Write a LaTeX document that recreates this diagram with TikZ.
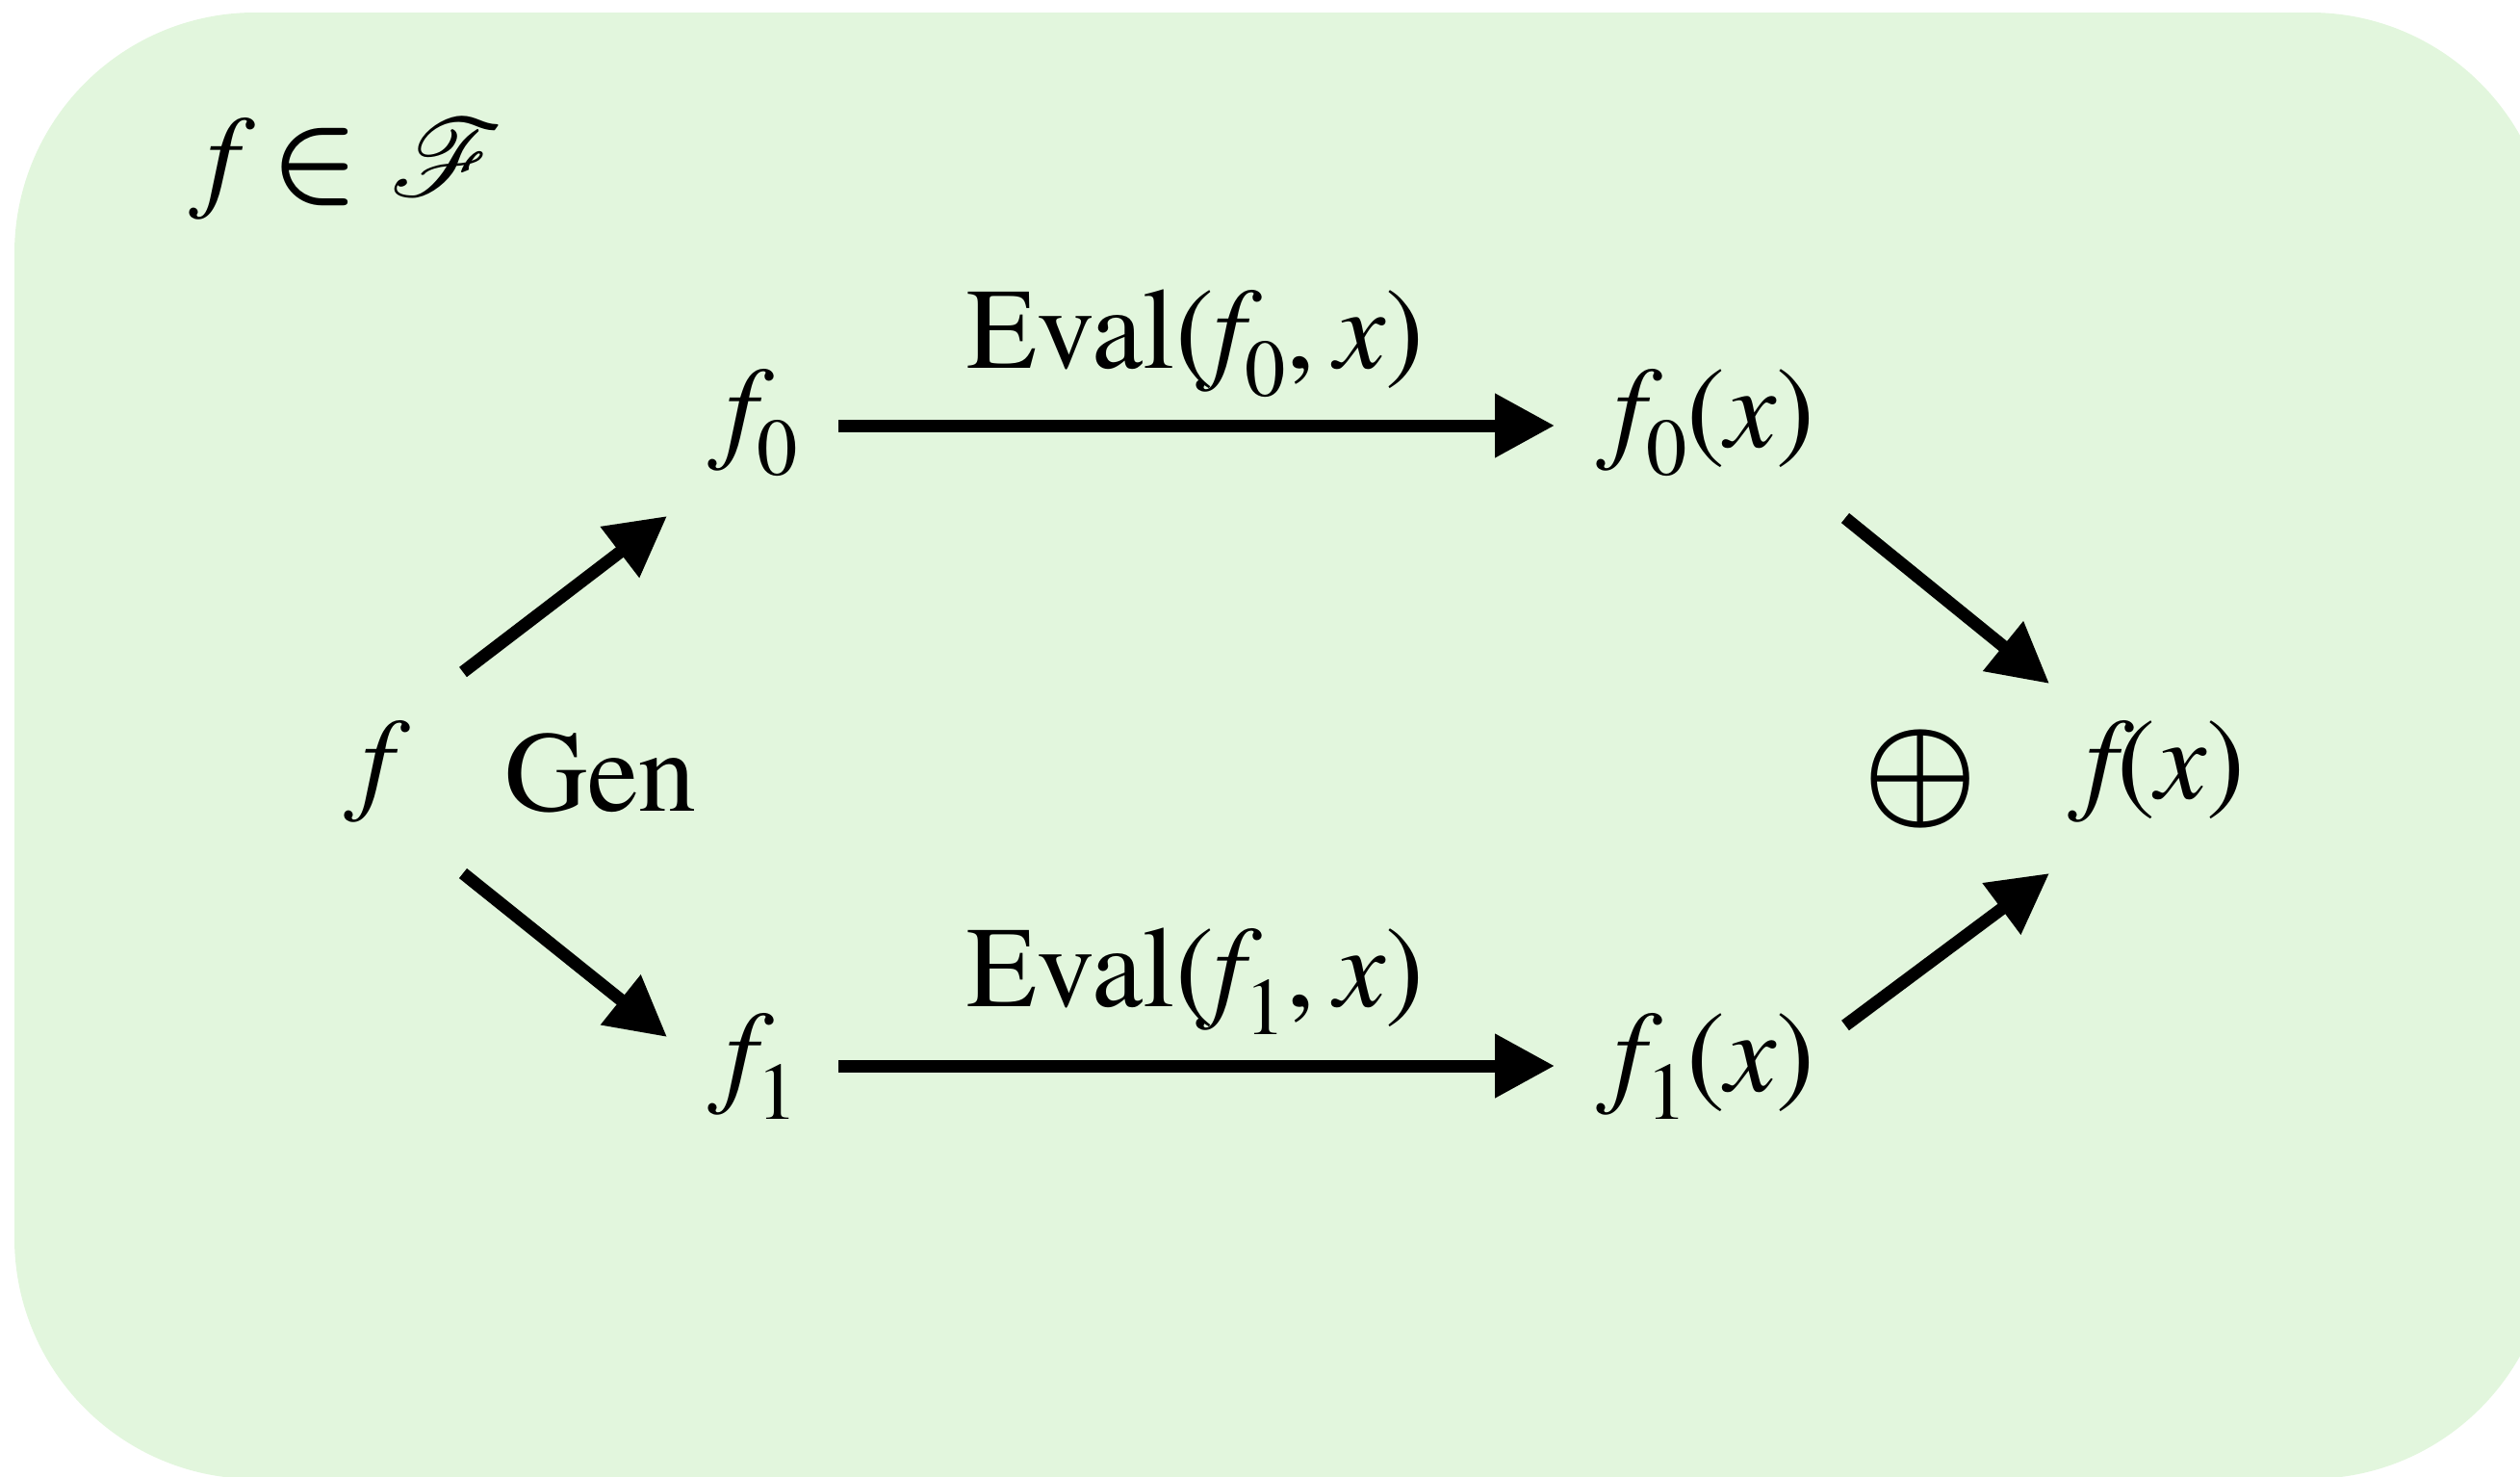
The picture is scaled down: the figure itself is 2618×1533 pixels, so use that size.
\RequirePackage{fix-cm}
\documentclass[tikz,border=0pt]{standalone}
\usepackage{fontspec}
\setmainfont{TeX Gyre Termes}
\usepackage{mathrsfs}
\usepackage{bm}
\usetikzlibrary{arrows.meta}
\definecolor{bggreen}{RGB}{226,246,221}
\newcommand{\vi}[1]{{\itshape #1}}
\newcommand{\sbs}[1]{\raisebox{-0.24em}{\fontsize{24}{24}\selectfont #1}}
\tikzset{
  lbl/.style={font=\fontsize{34}{40}\selectfont, inner sep=0pt, text height=0.75em, text depth=0.25em, anchor=center},
  arr/.style={line width=3.7pt, -{Triangle[length=17.6pt,width=18pt]}}
}
\begin{document}
\begin{tikzpicture}[x=0.01cm,y=-0.01cm]
\useasboundingbox (0,0) rectangle (2618,1533);
\begin{scope}
\clip (0,0) rectangle (2618,1533);
\fill[bggreen, rounded corners=2.5cm] (15,13) rectangle (2650,1536);
\end{scope}
\node[lbl] (fin) at (369,195) {$\mbox{\vi{f}}\mathrel{\bm{\in}}\scalebox{1.3}{$\mathscr{F}$}$};
\node[lbl] (f0) at (791,456) {\vi{f}\sbs{0}};
\node[lbl] (f0x) at (1781,456) {\vi{f}\sbs{0}(\vi{x})};
\node[lbl] (eval0) at (1242,374) {Eval(\vi{f}\sbs{0},\kern0.17em\vi{x})};
\node[lbl] (f) at (392,821) {\vi{f}};
\node[lbl] (gen) at (624,834) {Gen};
\node[lbl] (oplus) at (1995,834) {{\fontsize{38}{40}\selectfont$\bm{\oplus}$}};
\node[lbl] (fx) at (2249,821) {\vi{f}(\vi{x})};
\node[lbl] (f1) at (791,1125) {\vi{f}\sbs{1}};
\node[lbl] (f1x) at (1781,1125) {\vi{f}\sbs{1}(\vi{x})};
\node[lbl] (eval1) at (1242,1037) {Eval(\vi{f}\sbs{1},\kern0.17em\vi{x})};
\draw[arr] ([shift={(80,-14)}]f0.center) -- ([shift={(-166,-14)}]f0x.center);
\draw[arr] ([shift={(80,-18)}]f1.center) -- ([shift={(-166,-18)}]f1x.center);
\draw[arr] ([shift={(89,-123)}]f.center) -- ([shift={(-98,80)}]f0.center);
\draw[arr] ([shift={(89,86)}]f.center) -- ([shift={(-98,-48)}]f1.center);
\draw[arr] ([shift={(136,82)}]f0x.center) -- ([shift={(-120,-111)}]fx.center);
\draw[arr] ([shift={(136,-60)}]f1x.center) -- ([shift={(-120,86)}]fx.center);
\end{tikzpicture}
\end{document}
